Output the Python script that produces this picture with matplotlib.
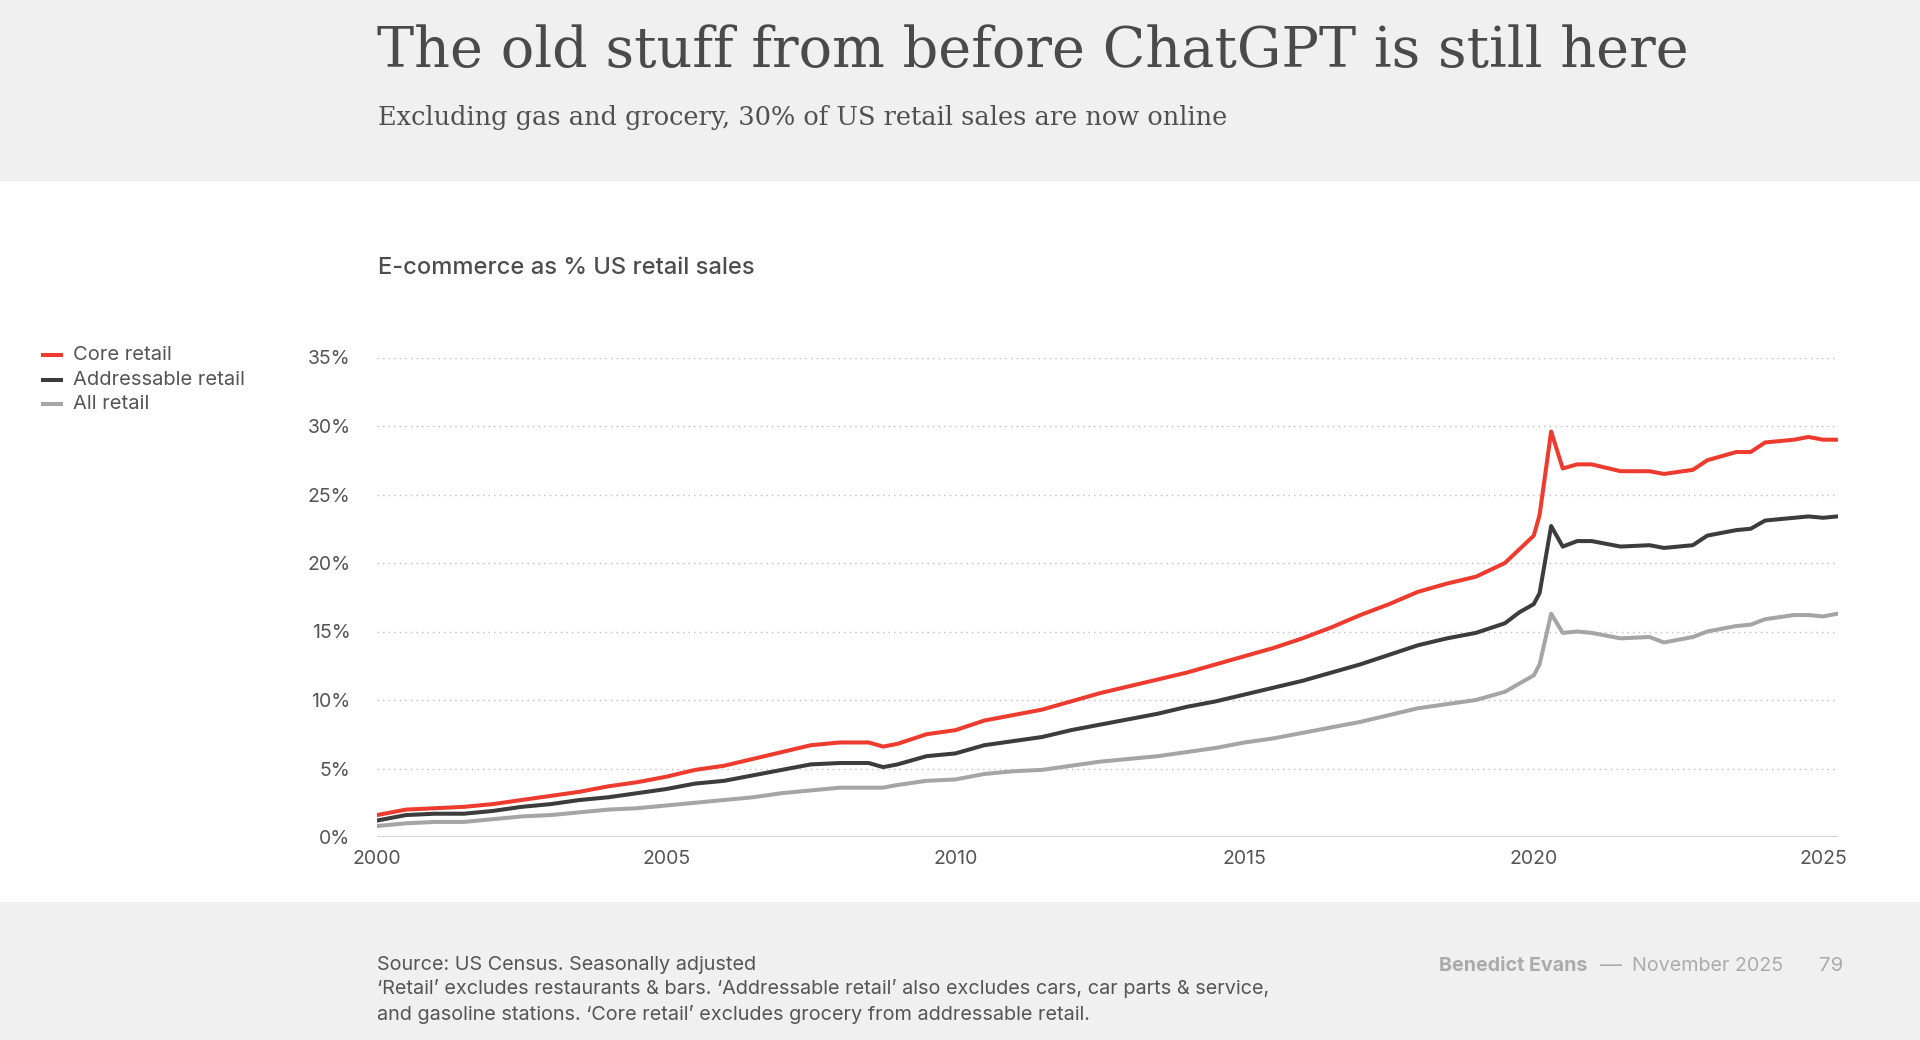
import matplotlib
matplotlib.use("Agg")
import matplotlib.pyplot as plt
from matplotlib.patches import Rectangle

# ---------------- data ----------------
years = [2000, 2000.5, 2001, 2001.5, 2002, 2002.5, 2003, 2003.5, 2004, 2004.5,
         2005, 2005.5, 2006, 2006.5, 2007, 2007.5, 2008, 2008.5, 2008.75,
         2009, 2009.5, 2010, 2010.5, 2011, 2011.5, 2012, 2012.5, 2013, 2013.5,
         2014, 2014.5, 2015, 2015.5, 2016, 2016.5, 2017, 2017.5, 2018, 2018.5,
         2019, 2019.5, 2019.75, 2020.0, 2020.1, 2020.3, 2020.5, 2020.75,
         2021, 2021.5, 2022, 2022.25, 2022.75, 2023, 2023.5, 2023.75,
         2024, 2024.5, 2024.75, 2025, 2025.25]

core_retail = [1.6, 2.0, 2.1, 2.2, 2.4, 2.7, 3.0, 3.3, 3.7, 4.0,
               4.4, 4.9, 5.2, 5.7, 6.2, 6.7, 6.9, 6.9, 6.6,
               6.8, 7.5, 7.8, 8.5, 8.9, 9.3, 9.9, 10.5, 11.0, 11.5,
               12.0, 12.6, 13.2, 13.8, 14.5, 15.3, 16.2, 17.0, 17.9, 18.5,
               19.0, 20.0, 21.0, 22.0, 23.5, 29.6, 26.9, 27.2,
               27.2, 26.7, 26.7, 26.5, 26.8, 27.5, 28.1, 28.1,
               28.8, 29.0, 29.2, 29.0, 29.0]

addressable_retail = [1.2, 1.6, 1.7, 1.7, 1.9, 2.2, 2.4, 2.7, 2.9, 3.2,
                      3.5, 3.9, 4.1, 4.5, 4.9, 5.3, 5.4, 5.4, 5.1,
                      5.3, 5.9, 6.1, 6.7, 7.0, 7.3, 7.8, 8.2, 8.6, 9.0,
                      9.5, 9.9, 10.4, 10.9, 11.4, 12.0, 12.6, 13.3, 14.0, 14.5,
                      14.9, 15.6, 16.4, 17.0, 17.8, 22.7, 21.2, 21.6,
                      21.6, 21.2, 21.3, 21.1, 21.3, 22.0, 22.4, 22.5,
                      23.1, 23.3, 23.4, 23.3, 23.4]

all_retail = [0.8, 1.0, 1.1, 1.1, 1.3, 1.5, 1.6, 1.8, 2.0, 2.1,
              2.3, 2.5, 2.7, 2.9, 3.2, 3.4, 3.6, 3.6, 3.6,
              3.8, 4.1, 4.2, 4.6, 4.8, 4.9, 5.2, 5.5, 5.7, 5.9,
              6.2, 6.5, 6.9, 7.2, 7.6, 8.0, 8.4, 8.9, 9.4, 9.7,
              10.0, 10.6, 11.2, 11.8, 12.6, 16.3, 14.9, 15.0,
              14.9, 14.5, 14.6, 14.2, 14.6, 15.0, 15.4, 15.5,
              15.9, 16.2, 16.2, 16.1, 16.3]

series_names = ["Core retail", "Addressable retail", "All retail"]
x_ticks = [2000, 2005, 2010, 2015, 2020, 2025]
y_ticks = [0, 5, 10, 15, 20, 25, 30, 35]
y_tick_labels = [f"{v}%" for v in y_ticks]

title = "The old stuff from before ChatGPT is still here"
subtitle = "Excluding gas and grocery, 30% of US retail sales are now online"
chart_title = "E-commerce as % US retail sales"
source_lines = ["Source: US Census. Seasonally adjusted",
                "\u2018Retail\u2019 excludes restaurants & bars. \u2018Addressable retail\u2019 also excludes cars, car parts & service,",
                "and gasoline stations. \u2018Core retail\u2019 excludes grocery from addressable retail."]

# ---------------- style ----------------
W, H = 1920, 1040
BAND = "#f0f0f0"
RED = "#ee3b2f"
DARK = "#3c3c3c"
GREY = "#a5a5a5"
TXT = "#4a4a4a"
SANS = ["Inter", "DejaVu Sans"]
SERIF = ["DejaVu Serif"]

fig = plt.figure(figsize=(W / 100, H / 100), dpi=100)
fig.patch.set_facecolor("white")
fig.patches.append(Rectangle((0, 1 - 181 / H), 1, 181 / H, transform=fig.transFigure,
                             facecolor=BAND, edgecolor="none", zorder=0))
fig.patches.append(Rectangle((0, 0), 1, (H - 902) / H, transform=fig.transFigure,
                             facecolor=BAND, edgecolor="none", zorder=0))

renderer = fig.canvas.get_renderer()


def px_text(x, y, s, target_w=None, size=12, **kw):
    t = fig.text(x / W, 1 - y / H, s, fontsize=size, **kw)
    if target_w:
        bb = t.get_window_extent(renderer=renderer)
        t.set_fontsize(size * target_w / bb.width)
    return t


px_text(377, 67, title, target_w=1313, size=44, family=SERIF, color=TXT,
        va="baseline", ha="left")
px_text(378, 125, subtitle, target_w=850, size=18, family=SERIF, color="#505050",
        va="baseline", ha="left")
px_text(378, 268, chart_title, target_w=375, size=16, family=SANS, color="#4d4d4d",
        va="center", ha="left", fontweight="medium")

# ---------------- axes ----------------
left, right = 377, 1838
y0, y35 = 837, 357.5
ax = fig.add_axes([left / W, (H - y0) / H, (right - left) / W, (y0 - y35) / H])
ax.set_facecolor("none")
ax.set_xlim(2000, 2000 + (right - left) / ((1823 - 377) / 25))
ax.set_ylim(0, 35)

for v in y_ticks[1:]:
    ax.axhline(v, color="#bdbdbd", lw=1.0, ls=(0, (1, 3)), zorder=1)
ax.axhline(0, color="#d6d6d6", lw=2.2, zorder=1)

colors = [RED, DARK, GREY]
for name, vals, c, z in zip(series_names, [core_retail, addressable_retail, all_retail],
                            colors, [4, 3, 2]):
    ax.plot(years, vals, color=c, lw=2.9, solid_joinstyle="round",
            solid_capstyle="round", zorder=z, label=name)

for s in ax.spines.values():
    s.set_visible(False)
ax.set_yticks(y_ticks)
ax.set_yticklabels(y_tick_labels)
ax.set_xticks(x_ticks)
ax.set_xticklabels([str(v) for v in x_ticks])
ax.tick_params(axis="both", length=0, labelsize=14, labelcolor="#555555")
ax.tick_params(axis="y", pad=19)
ax.tick_params(axis="x", pad=9)
for lab in ax.get_xticklabels() + ax.get_yticklabels():
    lab.set_family(SANS)

# ---------------- legend ----------------
leg_y = [355, 380, 404]
for name, c, yy in zip(series_names, colors, leg_y):
    fig.add_artist(plt.Line2D([43 / W, 61 / W], [1 - yy / H, 1 - yy / H],
                              transform=fig.transFigure, color=c, lw=2.9))
    t = px_text(73, yy, name, size=14.2, family=SANS, color="#555555",
                va="center", ha="left")
    if name == "Addressable retail":
        bb = t.get_window_extent(renderer=renderer)
        leg_fs = 14.2 * 172 / bb.width
for t in fig.texts[-3:]:
    t.set_fontsize(leg_fs)

# ---------------- footer ----------------
fy = [965, 989, 1014]
for i, (line, yy) in enumerate(zip(source_lines, fy)):
    t = px_text(377, yy, line, target_w=893 if i == 1 else None, size=12.5,
                family=SANS, color="#555555", va="center", ha="left")
    if i == 1:
        fs = t.get_fontsize()
for t in fig.texts[-3:]:
    t.set_fontsize(fs)

px_text(1439, 966, "Benedict Evans", target_w=149, size=13, family=SANS, color="#ababab",
        va="center", ha="left", fontweight="bold")
px_text(1600, 966, "\u2013\u2013", target_w=22, size=13, family=SANS, color="#ababab",
        va="center", ha="left")
px_text(1632, 966, "November 2025", target_w=151, size=13, family=SANS, color="#ababab",
        va="center", ha="left")
px_text(1843, 966, "79", target_w=24, size=14, family=SANS, color="#ababab",
        va="center", ha="right")

fig.savefig("out.png", dpi=100, facecolor=fig.get_facecolor())
